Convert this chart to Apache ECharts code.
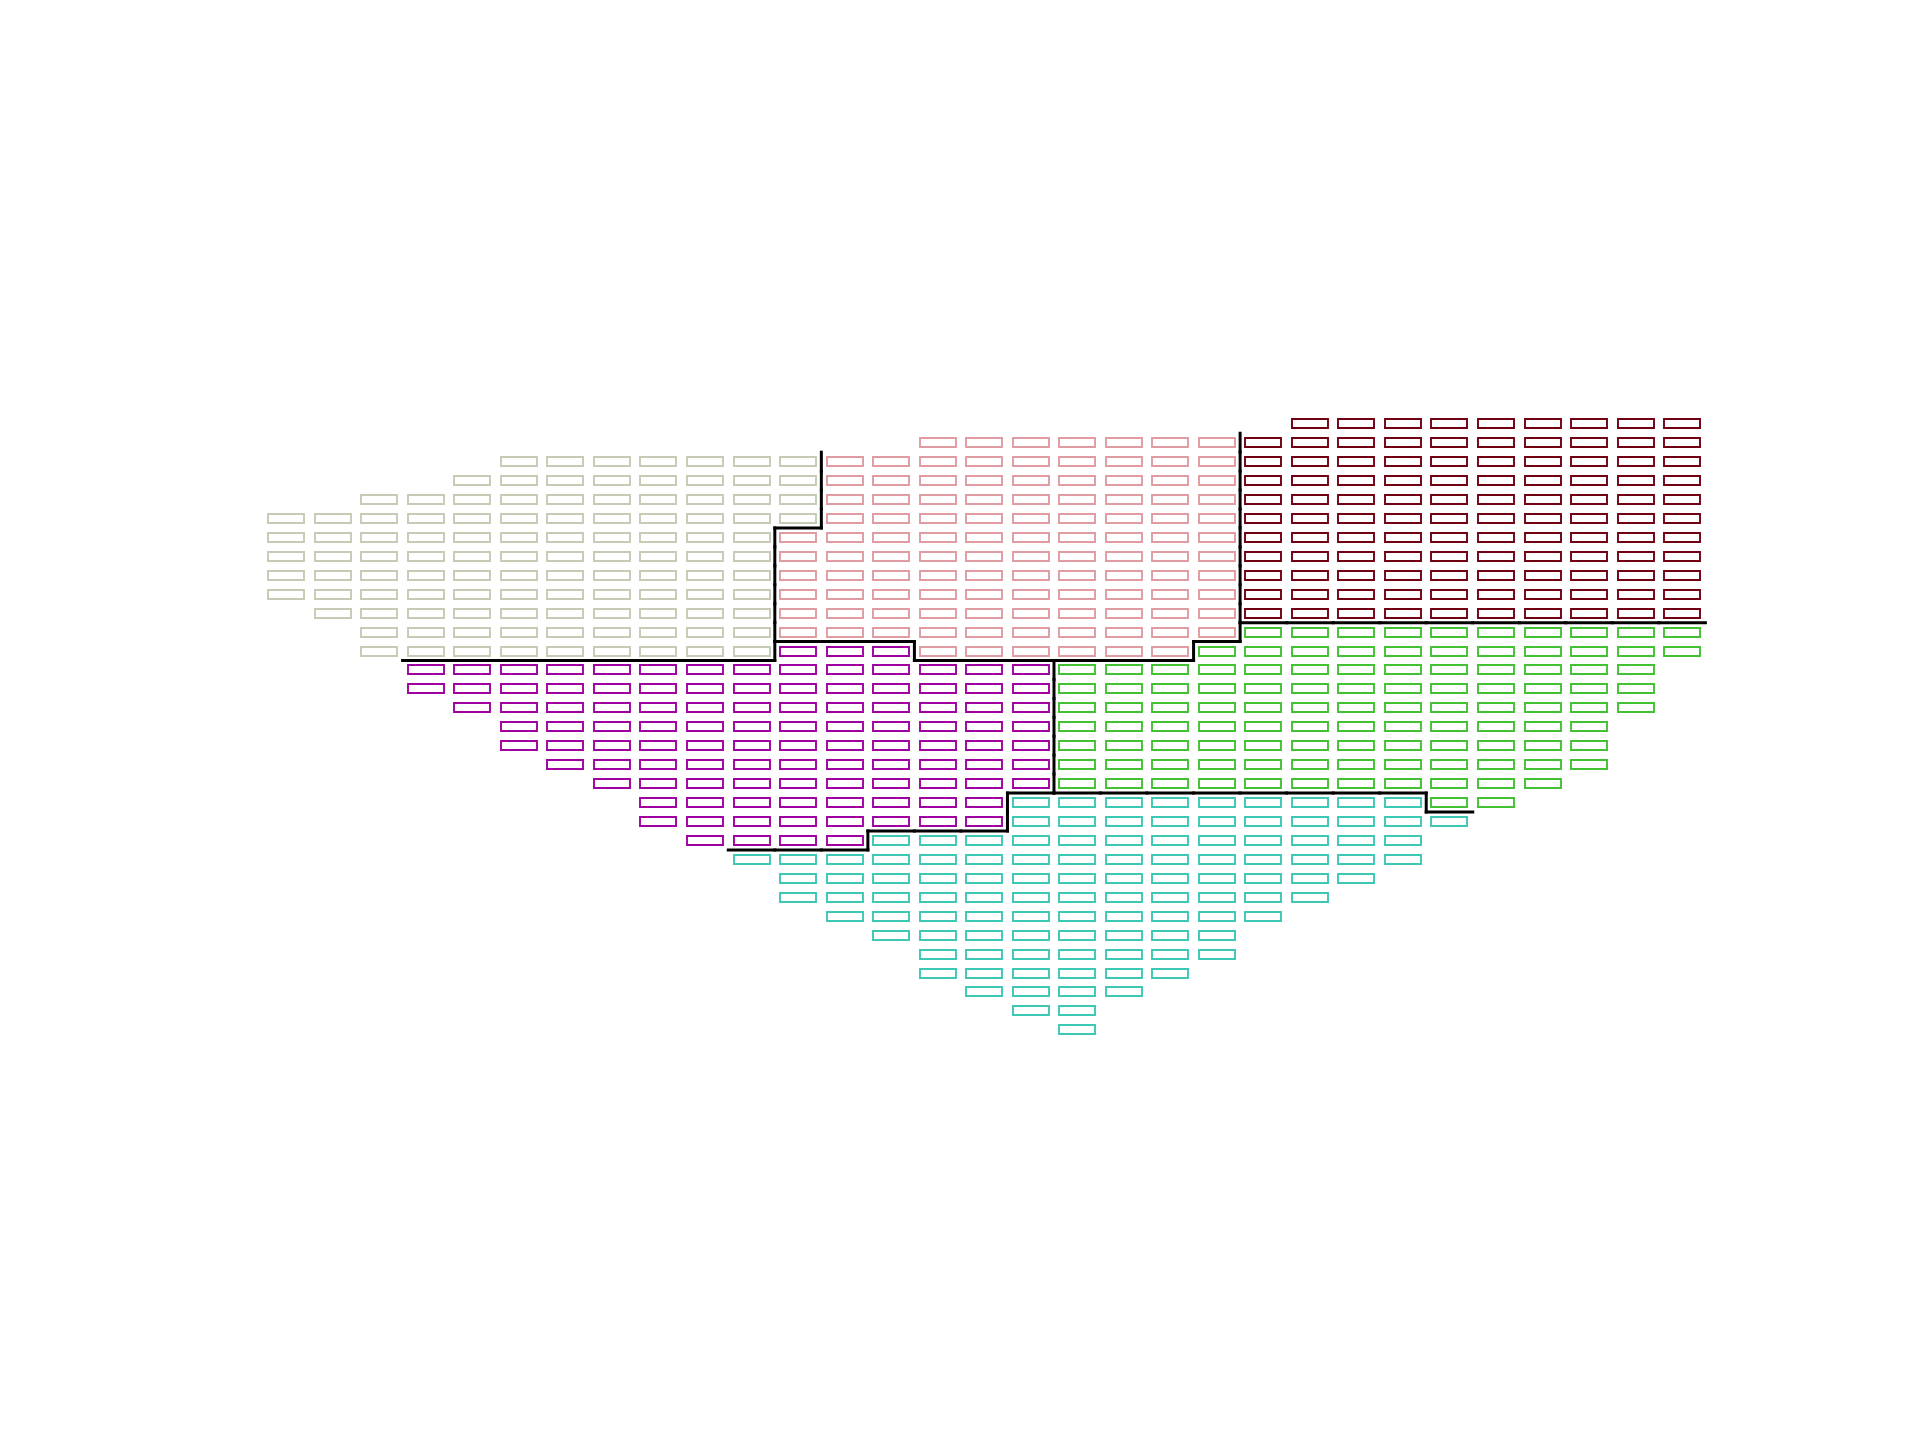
<!DOCTYPE html>
<html>
<head>
<meta charset="utf-8">
<script src="https://cdn.jsdelivr.net/npm/echarts@6/dist/echarts.min.js"></script>
<style>html,body{margin:0;padding:0;background:#fff}#chart{width:1920px;height:1440px}</style>
</head>
<body>
<div id="chart"></div>
<script>
// Each run: [row, firstColumn, lastColumn] (row 0 = top)
const beigeRuns = [[2,5,11],[3,4,11],[4,2,11],[5,0,11],[6,0,10],[7,0,10],[8,0,10],[9,0,10],[10,1,10],[11,2,10],[12,2,10]];
const pinkRuns = [[1,14,20],[2,12,20],[3,12,20],[4,12,20],[5,12,20],[6,11,20],[7,11,20],[8,11,20],[9,11,20],[10,11,20],[11,11,20],[12,14,19]];
const darkRedRuns = [[0,22,30],[1,21,30],[2,21,30],[3,21,30],[4,21,30],[5,21,30],[6,21,30],[7,21,30],[8,21,30],[9,21,30],[10,21,30]];
const purpleRuns = [[12,11,13],[13,3,16],[14,3,16],[15,4,16],[16,5,16],[17,5,16],[18,6,16],[19,7,16],[20,8,15],[21,8,15],[22,9,12]];
const greenRuns = [[11,21,30],[12,20,30],[13,17,29],[14,17,29],[15,17,29],[16,17,28],[17,17,28],[18,17,28],[19,17,27],[20,25,26]];
const tealRuns = [[20,16,24],[21,16,25],[22,13,24],[23,10,24],[24,11,23],[25,11,22],[26,12,21],[27,13,20],[28,14,20],[29,14,19],[30,15,18],[31,16,17],[32,17,17]];

const groups = [
  {name: 'beige', runs: beigeRuns, color: '#c6cbb5'},
  {name: 'pink', runs: pinkRuns, color: '#e09ca2'},
  {name: 'darkred', runs: darkRedRuns, color: '#700012'},
  {name: 'purple', runs: purpleRuns, color: '#a000a0'},
  {name: 'green', runs: greenRuns, color: '#42c232'},
  {name: 'teal', runs: tealRuns, color: '#3cc8b4'}
];

// expand runs into cells
const cellGroup = {};
const seriesCells = groups.map((g, gi) => {
  const cells = [];
  g.runs.forEach(([r, c0, c1]) => {
    for (let c = c0; c <= c1; c++) {
      cells.push([c, r]);
      cellGroup[r + ',' + c] = gi;
    }
  });
  return cells;
});

// boundary segments between cells of different groups
const segments = [];
Object.keys(cellGroup).forEach(k => {
  const [r, c] = k.split(',').map(Number);
  const g = cellGroup[k];
  const right = cellGroup[r + ',' + (c + 1)];
  if (right !== undefined && right !== g) segments.push([c + 0.5, r - 0.5, c + 0.5, r + 0.5]);
  const below = cellGroup[(r + 1) + ',' + c];
  if (below !== undefined && below !== g) segments.push([c - 0.5, r + 0.5, c + 0.5, r + 0.5]);
});

const RECT_W = 36, RECT_H = 9, STROKE = 1.9;

const chart = echarts.init(document.getElementById('chart'), null, {renderer: 'canvas'});
const series = groups.map((g, gi) => ({
  name: g.name,
  type: 'custom',
  data: seriesCells[gi],
  silent: true,
  clip: false,
  encode: {x: 0, y: 1},
  renderItem: function (params, api) {
    const p = api.coord([api.value(0), api.value(1)]);
    const x = Math.round(p[0] - RECT_W / 2);
    const y = Math.round(p[1] - RECT_H / 2);
    return {
      type: 'rect',
      shape: {x: x, y: y, width: RECT_W, height: RECT_H},
      style: {fill: 'none', stroke: g.color, lineWidth: STROKE}
    };
  }
}));
series.push({
  type: 'custom',
  data: segments,
  silent: true,
  clip: false,
  z: 10,
  encode: {x: [0, 2], y: [1, 3]},
  renderItem: function (params, api) {
    const p1 = api.coord([api.value(0), api.value(1)]);
    const p2 = api.coord([api.value(2), api.value(3)]);
    return {
      type: 'line',
      shape: {x1: p1[0], y1: p1[1], x2: p2[0], y2: p2[1]},
      style: {stroke: '#000', lineWidth: 3, lineCap: 'square'}
    };
  }
});

chart.setOption({
  animation: false,
  backgroundColor: '#fff',
  grid: {left: 263, width: 1442.4, top: 414.3, height: 625, containLabel: false},
  xAxis: {type: 'value', min: -0.5, max: 30.5, show: false},
  yAxis: {type: 'value', min: -0.5, max: 32.5, inverse: true, show: false},
  series: series
});
</script>
</body>
</html>
